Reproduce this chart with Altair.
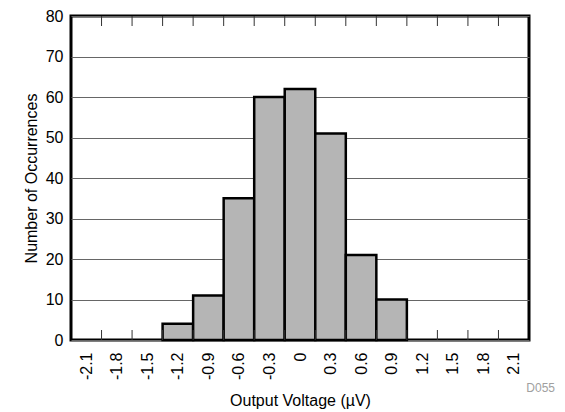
import altair as alt
import pandas as pd

# Data
centers = [-2.1, -1.8, -1.5, -1.2, -0.9, -0.6, -0.3, 0.0, 0.3, 0.6, 0.9, 1.2, 1.5, 1.8, 2.1]
counts = [0, 0, 0, 4, 11, 35, 60, 62, 51, 21, 10, 0, 0, 0, 0]
bin_width = 0.3
y_ticks = [0, 10, 20, 30, 40, 50, 60, 70, 80]
x_title = "Output Voltage (µV)"
y_title = "Number of Occurrences"
code_label = "D055"

W, H = 458, 324
FONT = "Liberation Sans"

df = pd.DataFrame({"center": centers, "count": counts})
edges = pd.DataFrame({"edge": [round(c + bin_width / 2, 3) for c in centers[:-1]]})

xscale = alt.Scale(domain=[centers[0] - bin_width / 2, centers[-1] + bin_width / 2], nice=False, zero=False)
yscale = alt.Scale(domain=[y_ticks[0], y_ticks[-1]], nice=False)

x_axis = alt.Axis(
    values=centers, labelExpr="'' + datum.value", labelAngle=270,
    ticks=False, domain=False, grid=False, title=x_title,
    labelOverlap=False, labelBound=False, labelFlush=False, labelSeparation=0,
    labelFontSize=16, titleFontSize=16, labelPadding=12, titlePadding=13,
)
y_axis = alt.Axis(
    values=y_ticks, ticks=False, domain=False, grid=True,
    gridColor="#666666", gridWidth=1, title=y_title,
    labelOverlap=False, labelFlush=False,
    labelFontSize=16, titleFontSize=16, labelPadding=8, titlePadding=6,
)

top_ticks = alt.Chart(edges).mark_rule(color="#333333", strokeWidth=1).encode(
    x=alt.X("edge:Q", scale=xscale, axis=x_axis),
    y=alt.value(0), y2=alt.value(10),
)
bottom_ticks = alt.Chart(edges).mark_rule(color="#333333", strokeWidth=1).encode(
    x=alt.X("edge:Q", scale=xscale, axis=x_axis),
    y=alt.value(H), y2=alt.value(H - 10),
)

bars = (
    alt.Chart(df)
    .transform_filter("datum.count > 0")
    .transform_calculate(x0=f"datum.center - {bin_width / 2}", x1=f"datum.center + {bin_width / 2}")
    .mark_rect(fill="#b5b5b5", stroke="black", strokeWidth=2.5)
    .encode(
        x=alt.X("x0:Q", scale=xscale, axis=x_axis),
        x2="x1:Q",
        y=alt.Y("count:Q", scale=yscale, axis=y_axis),
        y2=alt.datum(0),
    )
)

code = alt.Chart(pd.DataFrame({"t": [code_label]})).mark_text(
    font=FONT, fontSize=12, color="#a0a0a0", align="right", baseline="middle"
).encode(text="t:N", x=alt.value(484), y=alt.value(372))

chart = (
    alt.layer(bars, top_ticks, bottom_ticks, code)
    .properties(
        width=W, height=H,
        autosize=alt.AutoSizeParams(type="none"),
        padding={"left": 63, "top": 8, "right": 28, "bottom": 72},
    )
    .configure_view(stroke="black", strokeWidth=3)
    .configure_axis(
        labelFont=FONT, titleFont=FONT, labelColor="black", titleColor="black",
        titleFontWeight="normal", labelOverlap=False,
    )
)

chart.save("out.html", embed_options={"renderer": "svg", "actions": False})
